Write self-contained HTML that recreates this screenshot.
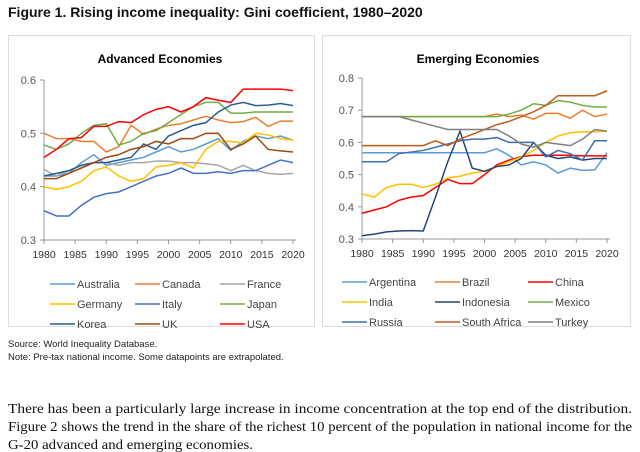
<!DOCTYPE html>
<html><head><meta charset="utf-8"><style>
body{margin:0;background:#fff;width:640px;height:452px;overflow:hidden;font-family:"Liberation Sans",sans-serif}
svg{display:block}
</style></head><body>
<svg id="fig" width="640" height="452" xmlns="http://www.w3.org/2000/svg">
<text x="8" y="17" font-size="14" font-weight="bold" fill="#111">Figure 1. Rising income inequality: Gini coefficient, 1980–2020</text>
<rect x="8.5" y="35.5" width="306" height="291" fill="#fff" stroke="#ddd"/>
<rect x="322.5" y="35.5" width="308" height="291" fill="#fff" stroke="#ddd"/>
<text x="160" y="63" font-size="12" font-weight="bold" text-anchor="middle">Advanced Economies</text>
<text x="478" y="63" font-size="12" font-weight="bold" text-anchor="middle">Emerging Economies</text>
<g id="left"></g><g id="right"></g>
<text x="8" y="347" font-size="9.5" fill="#222">Source: World Inequality Database.</text>
<text x="8" y="360" font-size="9.5" fill="#222">Note: Pre-tax national income. Some datapoints are extrapolated.</text>
<g font-family="Liberation Serif, serif" font-size="14" fill="#111">
<text x="8" y="413" textLength="624" lengthAdjust="spacingAndGlyphs">There has been a particularly large increase in income concentration at the top end of the distribution.</text>
<text x="8" y="431" textLength="624" lengthAdjust="spacingAndGlyphs">Figure 2 shows the trend in the share of the richest 10 percent of the population in national income for the</text>
<text x="8" y="449" textLength="245" lengthAdjust="spacingAndGlyphs">G-20 advanced and emerging economies.</text>
</g>
</svg>
<script>
const years=[1980,1982,1984,1986,1988,1990,1992,1994,1996,1998,2000,2002,2004,2006,2008,2010,2012,2014,2016,2018,2020];
const xTicks=[1980,1985,1990,1995,2000,2005,2010,2015,2020];
const advNames=["Australia","Canada","France","Germany","Italy","Japan","Korea","UK","USA"];
const advColors=["#5b9bd5","#ed7d31","#a5a5a5","#ffc000","#4472c4","#70ad47","#255e91","#9e480e","#ff0000"];
const australia=[0.42,0.42,0.425,0.445,0.46,0.44,0.445,0.45,0.455,0.465,0.475,0.465,0.47,0.48,0.49,0.468,0.485,0.495,0.49,0.495,0.487];
const canada=[0.5,0.49,0.49,0.485,0.485,0.465,0.475,0.515,0.498,0.508,0.515,0.518,0.525,0.532,0.525,0.52,0.522,0.53,0.513,0.523,0.523];
const france=[0.432,0.42,0.43,0.44,0.445,0.445,0.44,0.445,0.445,0.448,0.448,0.445,0.445,0.443,0.44,0.43,0.44,0.43,0.425,0.423,0.425];
const germany=[0.4,0.395,0.4,0.41,0.43,0.437,0.42,0.41,0.415,0.437,0.44,0.445,0.435,0.47,0.485,0.485,0.482,0.5,0.497,0.49,0.487];
const italy=[0.355,0.345,0.345,0.365,0.38,0.387,0.39,0.4,0.41,0.42,0.425,0.435,0.425,0.425,0.428,0.425,0.43,0.43,0.44,0.45,0.445];
const japan=[0.478,0.47,0.48,0.5,0.515,0.518,0.478,0.485,0.5,0.505,0.52,0.535,0.55,0.558,0.558,0.538,0.538,0.54,0.54,0.54,0.54];
const korea=[0.42,0.425,0.43,0.44,0.445,0.445,0.45,0.455,0.48,0.47,0.495,0.505,0.515,0.52,0.54,0.553,0.558,0.552,0.553,0.556,0.552];
const uk=[0.415,0.415,0.425,0.435,0.445,0.455,0.46,0.47,0.475,0.485,0.48,0.49,0.49,0.5,0.5,0.47,0.48,0.495,0.47,0.467,0.465];
const usa=[0.455,0.47,0.49,0.492,0.513,0.513,0.522,0.52,0.535,0.545,0.55,0.54,0.55,0.567,0.562,0.558,0.583,0.583,0.583,0.583,0.58];
const advTicks=[0.3,0.4,0.5,0.6];
const emNames=["Argentina","Brazil","China","India","Indonesia","Mexico","Russia","South Africa","Turkey"];
const emColors=["#5b9bd5","#ed7d31","#ff0000","#ffc000","#264478","#70ad47","#3f6fb0","#c05a1c","#7f7f7f"];
const argentina=[0.568,0.568,0.568,0.568,0.568,0.568,0.568,0.568,0.568,0.568,0.568,0.58,0.56,0.53,0.54,0.53,0.505,0.52,0.513,0.515,0.568];
const brazil=[0.68,0.68,0.68,0.68,0.68,0.68,0.68,0.68,0.68,0.68,0.68,0.688,0.68,0.685,0.672,0.69,0.69,0.675,0.7,0.68,0.688];
const china=[0.38,0.39,0.4,0.42,0.43,0.435,0.46,0.485,0.472,0.472,0.5,0.53,0.545,0.556,0.56,0.56,0.56,0.56,0.558,0.558,0.558];
const india=[0.44,0.43,0.46,0.47,0.47,0.46,0.47,0.49,0.495,0.505,0.51,0.525,0.54,0.555,0.575,0.6,0.62,0.63,0.633,0.633,0.635];
const indonesia=[0.31,0.315,0.322,0.325,0.326,0.325,0.43,0.54,0.635,0.52,0.51,0.525,0.53,0.55,0.6,0.56,0.55,0.555,0.545,0.55,0.55];
const mexico=[0.68,0.68,0.68,0.68,0.68,0.68,0.68,0.68,0.68,0.68,0.68,0.68,0.688,0.7,0.72,0.715,0.73,0.725,0.715,0.71,0.71];
const russia=[0.54,0.54,0.54,0.565,0.57,0.575,0.585,0.595,0.605,0.61,0.61,0.615,0.6,0.6,0.6,0.555,0.575,0.565,0.545,0.605,0.605];
const southAfrica=[0.59,0.59,0.59,0.59,0.59,0.59,0.605,0.59,0.61,0.625,0.64,0.655,0.665,0.68,0.695,0.715,0.745,0.745,0.745,0.745,0.76];
const turkey=[0.68,0.68,0.68,0.68,0.67,0.66,0.65,0.64,0.64,0.64,0.64,0.64,0.62,0.595,0.585,0.6,0.595,0.59,0.61,0.64,0.635];
const emTicks=[0.3,0.4,0.5,0.6,0.7,0.8];
const NS="http://www.w3.org/2000/svg";
function mk(parent,tag,attrs,text){const e=document.createElementNS(NS,tag);for(const k in attrs)e.setAttribute(k,attrs[k]);if(text!==undefined)e.textContent=text;parent.appendChild(e);return e;}
function chart(g,cfg){
  const xs=y=>cfg.x0+(y-1980)*(cfg.x1-cfg.x0)/40;
  const ys=v=>cfg.y0-(v-cfg.vmin)*(cfg.y0-cfg.y1)/(cfg.vmax-cfg.vmin);
  const ax=mk(g,'line',{x1:cfg.x0,x2:cfg.x0,y1:ys(cfg.vmax),y2:cfg.y0,stroke:'#999'});
  
  
  const bx=mk(g,'line',{x1:cfg.x0,x2:cfg.x1+3,y1:cfg.y0,y2:cfg.y0,stroke:'#999'});
  
  
  cfg.ticks.forEach(t=>{
    const l=mk(g,'text',{x:cfg.x0-8,y:ys(t)+4,'font-size':11,'text-anchor':'end',fill:'#555'},t.toFixed(1));
    
    
    mk(g,'line',{x1:cfg.x0-4,x2:cfg.x0,y1:ys(t),y2:ys(t),stroke:'#999'});
  });
  xTicks.forEach(t=>{
    const l=mk(g,'text',{x:xs(t),y:cfg.y0+18,'font-size':10.5,'text-anchor':'middle',fill:'#333'},t);
    
    
    mk(g,'line',{x1:xs(t),x2:xs(t),y1:cfg.y0,y2:cfg.y0+4,stroke:'#999'});
  });
  cfg.series.forEach((s,i)=>{
    const p=mk(g,'polyline',{points:s.map((v,j)=>xs(years[j])+','+ys(v)).join(' '),fill:'none',stroke:cfg.colors[i],'stroke-width':1.5});
    
    
  });
  cfg.names.forEach((n,i)=>{
    const c=i%3,r=Math.floor(i/3);
    const lx=cfg.lx+c*cfg.lw,ly=cfg.ly+r*20;
    mk(g,'line',{x1:lx,x2:lx+25,y1:ly-4,y2:ly-4,stroke:cfg.colors[i],'stroke-width':1.5});
    const t=mk(g,'text',{x:lx+27,y:ly,'font-size':11,fill:'#444'},n);
    
    
  });
}
chart(document.getElementById('left'),{x0:44,x1:293,y0:240,y1:80,vmin:0.3,vmax:0.6,ticks:advTicks,series:[australia,canada,france,germany,italy,japan,korea,uk,usa],names:advNames,colors:advColors,lx:50,lw:85,ly:288});
chart(document.getElementById('right'),{x0:362,x1:607,y0:239,y1:78,vmin:0.3,vmax:0.8,ticks:emTicks,series:[argentina,brazil,china,india,indonesia,mexico,russia,southAfrica,turkey],names:emNames,colors:emColors,lx:342,lw:93,ly:286});
</script>
</body></html>
